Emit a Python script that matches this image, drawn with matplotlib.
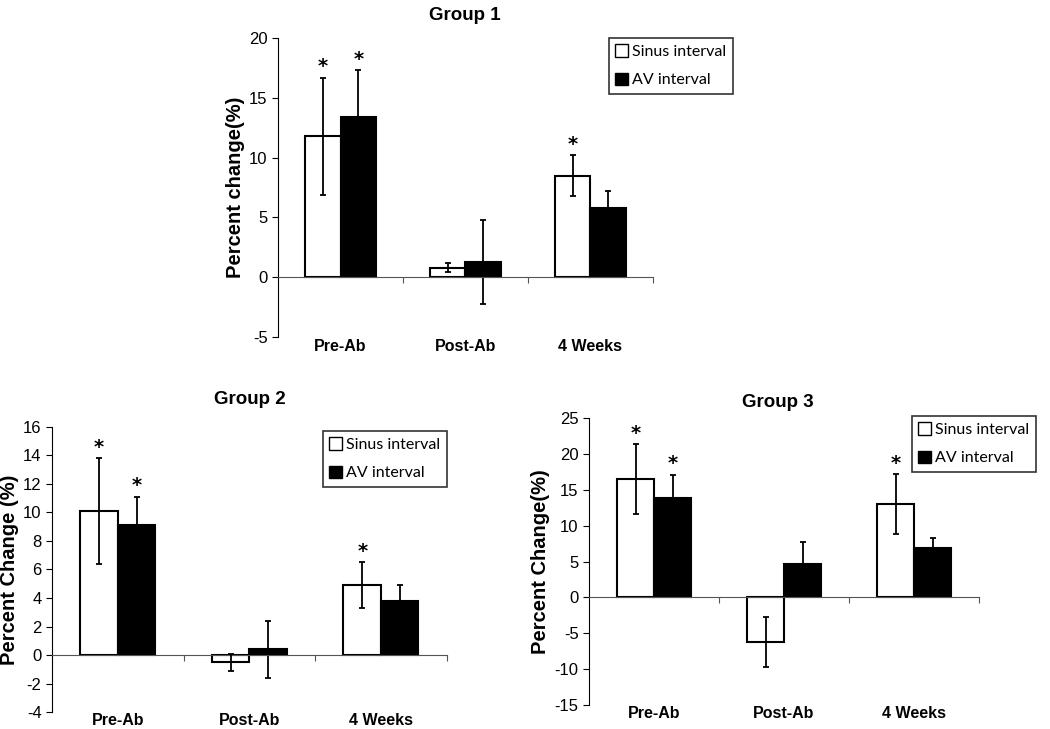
"""Percent change of sinus and AV intervals for three groups"""

import matplotlib.pyplot as plt
from matplotlib.patches import Patch
import numpy as np

plt.rcParams['font.family'] = ['Liberation Sans', 'DejaVu Sans']
plt.rcParams['axes.unicode_minus'] = False

categories = ['Pre-Ab', 'Post-Ab', '4 Weeks']
series_names = ['Sinus interval', 'AV interval']

# group 1
g1_sinus = [11.8, 0.8, 8.5]
g1_sinus_err = [4.9, 0.4, 1.7]
g1_av = [13.4, 1.3, 5.8]
g1_av_err = [3.9, 3.5, 1.4]
g1_sinus_star = [True, False, True]
g1_av_star = [True, False, False]

# group 2
g2_sinus = [10.1, -0.5, 4.9]
g2_sinus_err = [3.7, 0.6, 1.6]
g2_av = [9.1, 0.4, 3.8]
g2_av_err = [2.0, 2.0, 1.1]
g2_sinus_star = [True, False, True]
g2_av_star = [True, False, False]

# group 3
g3_sinus = [16.5, -6.2, 13.0]
g3_sinus_err = [4.85, 3.5, 4.2]
g3_av = [13.9, 4.7, 6.9]
g3_av_err = [3.2, 3.0, 1.4]
g3_sinus_star = [True, False, True]
g3_av_star = [True, False, False]


def draw_group(fig, rect, title, title_xy, ylabel, ylim, yticks, sinus, sinus_err,
               av, av_err, sinus_star, av_star, legend_pos):
    ax = fig.add_axes(rect)
    x = np.arange(len(categories))
    w = 0.285

    ax.bar(x - w / 2, sinus, w, color='white', edgecolor='black', linewidth=1.5, zorder=2)
    ax.bar(x + w / 2, av, w, color='black', edgecolor='black', linewidth=1.5, zorder=2)
    ax.errorbar(x - w / 2, sinus, yerr=sinus_err, fmt='none', ecolor='black',
                elinewidth=1.3, capsize=2.5, capthick=1.3, zorder=3)
    ax.errorbar(x + w / 2, av, yerr=av_err, fmt='none', ecolor='black',
                elinewidth=1.3, capsize=2.5, capthick=1.3, zorder=1)

    # significance stars above the error bars
    for xs, vals, errs, stars in [(x - w / 2, sinus, sinus_err, sinus_star),
                                  (x + w / 2, av, av_err, av_star)]:
        for xi, v, e, s in zip(xs, vals, errs, stars):
            if s:
                ax.annotate('*', xy=(xi, v + e), xytext=(0, 1), textcoords='offset points',
                            ha='center', va='bottom', fontsize=14, fontweight='bold',
                            family='DejaVu Sans')

    ax.set_xlim(-0.5, len(categories) - 0.5)
    ax.set_ylim(*ylim)
    ax.set_yticks(yticks)
    ax.tick_params(axis='y', direction='out', length=4, labelsize=12)

    ax.spines['top'].set_visible(False)
    ax.spines['right'].set_visible(False)
    ax.spines['bottom'].set_position(('data', 0))
    ax.spines['bottom'].set_color('#555555')
    ax.set_xticks(np.arange(len(categories)) + 0.5)
    ax.set_xticklabels([])
    ax.tick_params(axis='x', direction='out', length=4, color='#555555')

    for i, c in enumerate(categories):
        ax.text(i, -0.005, c, transform=ax.get_xaxis_transform(), ha='center', va='top',
                fontsize=11.5, fontweight='bold')

    ax.set_ylabel(ylabel, fontsize=14.5, fontweight='bold', labelpad=3)
    fig.text(title_xy[0] / 1050, 1 - title_xy[1] / 729, title, ha='center', va='center',
             fontsize=13.5, fontweight='bold')

    handles = [Patch(facecolor='white', edgecolor='black', linewidth=1),
               Patch(facecolor='black', edgecolor='black', linewidth=1)]
    leg = ax.legend(handles, series_names, loc='upper left', bbox_to_anchor=legend_pos,
                    bbox_transform=fig.transFigure, borderaxespad=0, frameon=True,
                    fancybox=False, edgecolor='black', handlelength=0.8, handleheight=0.8,
                    handletextpad=0.25, labelspacing=0.85, borderpad=0.4,
                    prop={'family': 'Lato', 'size': 11.5})
    leg.get_frame().set_linewidth(1.2)
    return ax


fig = plt.figure(figsize=(10.5, 7.29), dpi=100)

draw_group(fig, [0.2648, 0.5377, 0.357, 0.410], 'Group 1', (465, 15), 'Percent change(%)',
           (-5, 20), [-5, 0, 5, 10, 15, 20],
           g1_sinus, g1_sinus_err, g1_av, g1_av_err, g1_sinus_star, g1_av_star,
           (609 / 1050, 1 - 38 / 729))

draw_group(fig, [0.0495, 0.0233, 0.376, 0.391], 'Group 2', (250, 400), 'Percent Change (%)',
           (-4, 16), [-4, -2, 0, 2, 4, 6, 8, 10, 12, 14, 16],
           g2_sinus, g2_sinus_err, g2_av, g2_av_err, g2_sinus_star, g2_av_star,
           (323 / 1050, 1 - 431 / 729))

draw_group(fig, [0.561, 0.0329, 0.3714, 0.3937], 'Group 3', (778, 402), 'Percent Change(%)',
           (-15, 25), [-15, -10, -5, 0, 5, 10, 15, 20, 25],
           g3_sinus, g3_sinus_err, g3_av, g3_av_err, g3_sinus_star, g3_av_star,
           (912 / 1050, 1 - 416 / 729))

fig.savefig('out.png', dpi=100)
plt.close(fig)
